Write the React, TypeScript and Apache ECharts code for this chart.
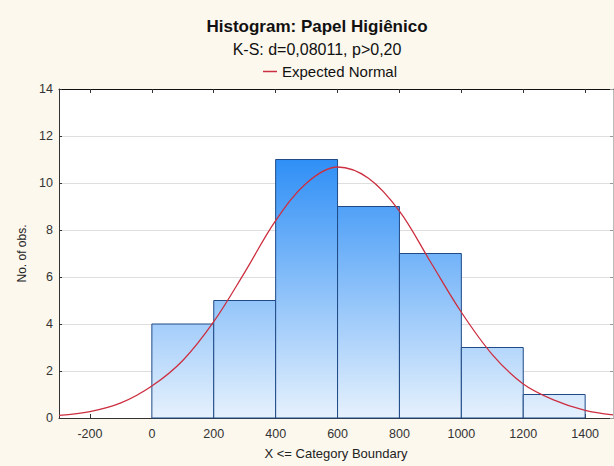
import React, { useEffect, useRef } from "react";
import * as echarts from "echarts";

const titleText = "Histogram: Papel Higiênico";
const subtitleText = "K-S: d=0,08011, p>0,20";
const legendName = "Expected Normal";
const xAxisName = "X <= Category Boundary";
const yAxisName = "No. of obs.";

const binStart = [0, 200, 400, 600, 800, 1000, 1200];
const binEnd = [200, 400, 600, 800, 1000, 1200, 1400];
const counts = [4, 5, 11, 9, 7, 3, 1];

const curveX = [-300, -200, -100, 0, 100, 200, 300, 400, 500, 600, 700, 800, 900, 1000, 1100, 1200, 1300, 1400, 1490];
const curveY = [0.11, 0.27, 0.64, 1.36, 2.45, 4.1, 6.2, 8.4, 10.0, 10.68, 10.2, 8.8, 6.65, 4.5, 2.7, 1.45, 0.76, 0.32, 0.13];

const xTicks = [-200, 0, 200, 400, 600, 800, 1000, 1200, 1400];
const xMin = -300;
const xMax = 1490;
const yMin = 0;
const yMax = 14;
const yStep = 2;

const FONT = "'Liberation Sans', Arial, sans-serif";

export default function App() {
  const ref = useRef<HTMLDivElement>(null);

  useEffect(() => {
    if (!ref.current) return;
    const chart = echarts.init(ref.current, undefined, { renderer: "svg" });

    const barData = binStart.map((s, i) => [s, binEnd[i], counts[i]]);
    const lineData = curveX.map((x, i) => [x, curveY[i]]);

    const option: any = {
      animation: false,
      backgroundColor: "#fcf8ee",
      textStyle: { fontFamily: FONT },
      graphic: [
        {
          type: "text",
          x: 317,
          y: 26,
          style: {
            text: titleText,
            font: `bold 17px ${FONT}`,
            fill: "#111",
            align: "center",
            verticalAlign: "middle",
          },
        },
        {
          type: "text",
          x: 317,
          y: 49,
          style: {
            text: subtitleText,
            font: `16px ${FONT}`,
            fill: "#111",
            align: "center",
            verticalAlign: "middle",
          },
        },
      ],
      legend: {
        left: 258,
        top: 59,
        icon: "rect",
        itemWidth: 14,
        itemHeight: 1.5,
        itemGap: 10,
        textStyle: { fontSize: 15, color: "#111", fontFamily: FONT, padding: [0, 0, 0, 0] },
        data: [legendName],
      },
      grid: {
        left: 59,
        right: 1,
        top: 89,
        bottom: 48,
        show: true,
        backgroundColor: "#ffffff",
        borderWidth: 0,
      },
      xAxis: [
        {
          type: "value",
          min: xMin,
          max: xMax,
          position: "bottom",
          name: xAxisName,
          nameLocation: "middle",
          nameGap: 29,
          nameTextStyle: { fontSize: 13, color: "#222", fontFamily: FONT },
          axisLine: { show: true, onZero: false, lineStyle: { color: "#333", width: 1 } },
          axisTick: { show: true, inside: true, length: 4, customValues: xTicks, lineStyle: { color: "#333" } },
          axisLabel: {
            customValues: xTicks,
            fontSize: 12.5,
            color: "#333",
            margin: 9,
            fontFamily: FONT,
            formatter: (v: number) => String(v),
          },
          splitLine: { show: false },
        },
        {
          type: "value",
          min: xMin,
          max: xMax,
          position: "top",
          axisLine: { show: true, onZero: false, lineStyle: { color: "#111", width: 1 } },
          axisTick: { show: true, inside: true, length: 4, customValues: xTicks, lineStyle: { color: "#333" } },
          axisLabel: { show: false },
          splitLine: { show: false },
        },
      ],
      yAxis: [
        {
          type: "value",
          min: yMin,
          max: yMax,
          interval: yStep,
          position: "left",
          name: yAxisName,
          nameLocation: "middle",
          nameGap: 29,
          nameTextStyle: { fontSize: 12, color: "#222", fontFamily: FONT },
          axisLine: { show: true, onZero: false, lineStyle: { color: "#333", width: 1 } },
          axisTick: { show: true, inside: true, length: 3, lineStyle: { color: "#333" } },
          axisLabel: { fontSize: 12.5, color: "#333", margin: 6, fontFamily: FONT },
          splitLine: { show: true, lineStyle: { color: "#dedede", width: 1 } },
        },
        {
          type: "value",
          min: yMin,
          max: yMax,
          interval: yStep,
          position: "right",
          axisLine: { show: true, onZero: false, lineStyle: { color: "#bbb", width: 1 } },
          axisTick: { show: true, inside: true, length: 3, lineStyle: { color: "#999" } },
          axisLabel: { show: false },
          splitLine: { show: false },
        },
      ],
      series: [
        {
          type: "custom",
          name: "Histogram",
          xAxisIndex: 0,
          yAxisIndex: 0,
          data: barData,
          encode: { x: [0, 1], y: 2 },
          renderItem: (params: any, api: any) => {
            const x0 = api.value(0);
            const x1 = api.value(1);
            const c = api.value(2);
            const p0 = api.coord([x0, c]);
            const p1 = api.coord([x1, 0]);
            const gTop = api.coord([0, 11])[1];
            const gBot = api.coord([0, 0])[1];
            return {
              type: "rect",
              shape: { x: p0[0], y: p0[1], width: p1[0] - p0[0], height: p1[1] - p0[1] },
              style: {
                fill: new echarts.graphic.LinearGradient(
                  0,
                  gTop,
                  0,
                  gBot,
                  [
                    { offset: 0, color: "#2f8ff6" },
                    { offset: 1, color: "#e6f1fd" },
                  ],
                  true
                ),
                stroke: "#1f4a86",
                lineWidth: 1,
              },
            };
          },
          z: 2,
        },
        {
          type: "line",
          name: legendName,
          xAxisIndex: 0,
          yAxisIndex: 0,
          data: lineData,
          smooth: 0.35,
          symbol: "none",
          lineStyle: { color: "#cc2f40", width: 1.3 },
          itemStyle: { color: "#cc2f40" },
          z: 3,
        },
      ],
    };

    chart.setOption(option);
    return () => chart.dispose();
  }, []);

  return (
    <div
      ref={ref}
      style={{ position: "absolute", left: 0, top: 0, width: 614, height: 466 }}
    />
  );
}
